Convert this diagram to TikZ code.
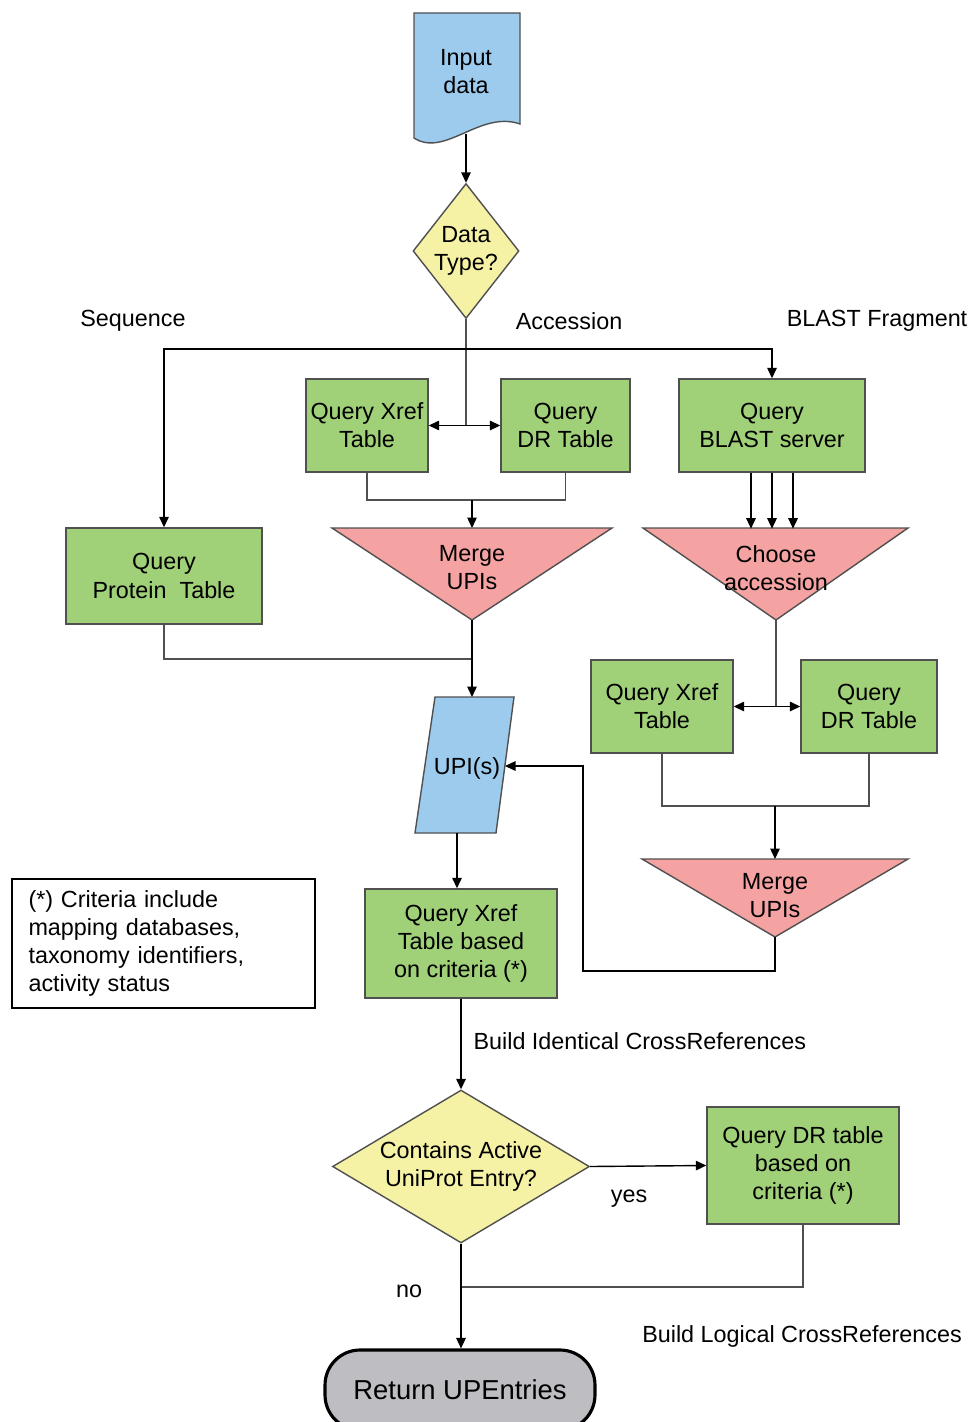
\documentclass[tikz,border=0pt]{standalone}
\usepackage{fontspec}
\setmainfont{Liberation Sans}
\usetikzlibrary{shapes.geometric,arrows.meta,positioning}
\definecolor{inblue}{RGB}{157,203,238}
\definecolor{procgreen}{RGB}{160,208,120}
\definecolor{mergepink}{RGB}{245,162,162}
\definecolor{decyellow}{RGB}{245,242,166}
\definecolor{endgray}{RGB}{190,190,194}
\definecolor{edgegray}{RGB}{80,80,80}

\tikzset{
  proc/.style={draw=edgegray, fill=procgreen, inner sep=0pt},
  dec/.style={diamond, draw=edgegray, fill=decyellow, inner sep=0pt},
  shapefill/.style={draw=edgegray},
  link/.style={draw=edgegray},
  arr/.style={draw=black, -{Triangle[length=0.21cm,width=0.19cm]}},
}

\begin{document}
\begin{tikzpicture}[x=0.02cm, y=-0.02cm, line width=0.8pt,
    every node/.style={align=center}, font=\fontsize{13.3}{16}\selectfont]
    \path[use as bounding box, clip] (0,0) rectangle (972,1422);

    % Input and data type
    \draw[shapefill, fill=inblue] (414,13) -- (520,13) -- (520,124)
        .. controls (480,110) and (445,158) .. (414,138) -- cycle;
    \node (input) at (466,72) {Input\\data};
    \coordinate (inbot) at (466,134);
    \node[dec, aspect=0.785, minimum width=2.12cm, minimum height=2.7cm] (dtype) at (466,251) {Data\\Type?};
    \draw[arr] (inbot) -- (dtype.north);

    % Branch labels
    \node (seq) at (133,321) {Sequence};
    \node (acclabel) at (569,321) {Accession};
    \node (blastlabel) at (877,321) {BLAST Fragment};

    % Accession branch
    \node[proc, minimum width=2.44cm, minimum height=1.86cm] (xref1) at (367,425.5) {Query Xref\\Table};
    \node[proc, minimum width=2.58cm, minimum height=1.86cm] (dr1) at (565.5,425.5) {Query\\DR Table};
    \coordinate (acc) at (466,425.5);
    \draw[link] (dtype.south) -- (acc);
    \draw[arr] (acc) -- (xref1.east);
    \draw[arr] (acc) -- (dr1.west);

    \draw[shapefill, fill=mergepink] (332,528) -- (612,528) -- (472,620) -- cycle;
    \coordinate (m1top) at (472,528);
    \coordinate (m1tip) at (472,620);
    \node (merge1) at (472,568) {Merge\\UPIs};
    \coordinate (m1in) at (472,500);
    \draw[link] (xref1.south) |- (m1in) -| (dr1.south);
    \draw[arr] (m1in) -- (m1top);

    % Sequence branch
    \node[proc, minimum width=3.92cm, minimum height=1.92cm] (prot) at (164,576) {Query\\Protein\ \ Table};
    \node[proc, minimum width=3.72cm, minimum height=1.86cm] (blast) at (772,425.5) {Query\\BLAST server};
    \coordinate (split) at (466,349);
    \draw[arr] (split) -| (prot.north);
    \draw[arr] (split) -| (blast.north);

    % UPI(s)
    \draw[shapefill, fill=inblue] (435,697) -- (514,697) -- (496,833) -- (415,833) -- cycle;
    \node (upi) at (467,768) {UPI(s)};
    \coordinate (upitop) at (472,697);
    \coordinate (upiright) at (505,766);
    \coordinate (upibot) at (457,833);
    \coordinate (pjoin) at (472,659);
    \draw[link] (prot.south) |- (pjoin);
    \draw[arr] (m1tip) -- (upitop);

    % BLAST branch
    \draw[shapefill, fill=mergepink] (643,528) -- (908,528) -- (776,620) -- cycle;
    \coordinate (chtip) at (776,620);
    \node (choose) at (776,568) {Choose\\accession};
    \foreach \dx in {-21,0,21}
        \draw[arr] (blast.south) ++(\dx,0) -- ++(0,56);

    \node[proc, minimum width=2.84cm, minimum height=1.86cm] (xref2) at (662,706.5) {Query Xref\\Table};
    \node[proc, minimum width=2.72cm, minimum height=1.86cm] (dr2) at (869,706.5) {Query\\DR Table};
    \coordinate (bl) at (776,706.5);
    \draw[link] (chtip) -- (bl);
    \draw[arr] (bl) -- (xref2.east);
    \draw[arr] (bl) -- (dr2.west);

    \draw[shapefill, fill=mergepink] (642,859) -- (908,859) -- (775,937) -- cycle;
    \coordinate (m2top) at (775,859);
    \coordinate (m2tip) at (775,937);
    \node (merge2) at (775,896) {Merge\\UPIs};
    \coordinate (m2in) at (775,806);
    \draw[link] (xref2.south) |- (m2in) -| (dr2.south);
    \draw[arr] (m2in) -- (m2top);
    \coordinate (loop) at (583,971);
    \draw[link, arr] (m2tip) |- (loop) |- (upiright);

    % Cross references
    \node[proc, minimum width=3.84cm, minimum height=2.18cm] (xrefc) at (461,943.5) {Query Xref\\Table based\\on criteria (*)};
    \draw[arr] (upibot) -- (upibot |- xrefc.north);
    \node[draw=black, line width=1.6pt, minimum width=6.06cm, minimum height=2.58cm,
        text width=5.4cm, align=left] (note) at (163.5,943.5)
        {(*) Criteria include\\mapping databases,\\taxonomy identifiers,\\activity status};

    \node[dec, aspect=1.68, minimum width=5.14cm, minimum height=3.06cm] (active) at (461,1166.5) {Contains Active\\UniProt Entry?};
    \draw[arr] (xrefc.south) -- (active.north);
    \node[anchor=west] (bident) at (467,1041) {Build Identical CrossReferences};
    \node[proc, minimum width=3.84cm, minimum height=2.34cm] (drc) at (803,1165.5) {Query DR table\\based on\\criteria (*)};
    \draw[link, arr] (active.east) -- (drc.west);
    \node (yes) at (629,1199) {yes};

    % Return
    \node[draw=black, line width=1.8pt, fill=endgray, rounded corners=0.7cm,
        minimum width=5.4cm, minimum height=1.6cm, font=\fontsize{15.6}{18}\selectfont] (ret) at (460,1390) {Return UPEntries};
    \coordinate (njoin) at (461,1287);
    \draw[link] (drc.south) |- (njoin);
    \draw[arr] (active.south) -- (active.south |- ret.north);
    \node (no) at (409,1291) {no};
    \node (blogic) at (802,1336) {Build Logical CrossReferences};
\end{tikzpicture}
\end{document}
